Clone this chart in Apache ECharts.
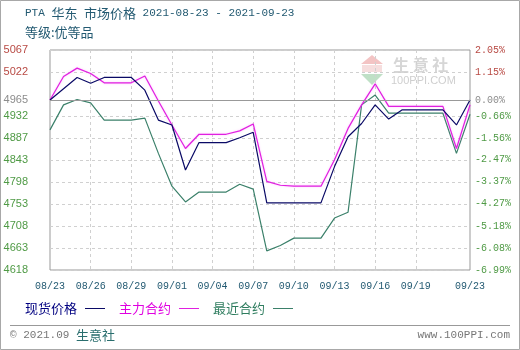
<!DOCTYPE html>
<html>
<head>
<meta charset="utf-8">
<script src="https://cdn.jsdelivr.net/npm/echarts@6/dist/echarts.min.js"></script>
<style>
  html, body { margin: 0; padding: 0; background: #fff; }
  #chart { width: 520px; height: 350px; }
</style>
</head>
<body>
<div id="chart"></div>
<script>
// Calendar days of the period (weekends/holidays carry the last quote)
const dates = [
  '08/23','08/24','08/25','08/26','08/27','08/28','08/29','08/30','08/31',
  '09/01','09/02','09/03','09/04','09/05','09/06','09/07','09/08','09/09','09/10',
  '09/11','09/12','09/13','09/14','09/15','09/16','09/17','09/18','09/19','09/20',
  '09/21','09/22','09/23'
];

// 现货价格 (元/吨)
const spotPrice = [
  4965, 4988, 5011, 4999, 5011, 5011, 5011, 4985, 4924, 4914,
  4822, 4878, 4878, 4878, 4888, 4899, 4755, 4755, 4755, 4755,
  4755, 4829, 4890, 4917, 4955, 4926, 4945, 4945, 4945, 4945,
  4914, 4965
];

// 主力合约
const mainContract = [
  4965, 5013, 5030, 5019, 5000, 5000, 5000, 5014, 4963, 4914,
  4866, 4895, 4895, 4895, 4902, 4916, 4799, 4791, 4789, 4789,
  4789, 4843, 4907, 4955, 4998, 4952, 4952, 4952, 4952, 4952,
  4866, 4955
];

// 最近合约
const nearContract = [
  4904, 4955, 4966, 4959, 4924, 4924, 4924, 4928, 4856, 4789,
  4757, 4777, 4777, 4777, 4793, 4783, 4657, 4668, 4683, 4683,
  4683, 4724, 4736, 4955, 4975, 4938, 4938, 4938, 4938, 4938,
  4856, 4936
];

// Price ticks (left) and change vs. base price (right)
const baseValue = 4965;
const leftTicks = [4618, 4663, 4708, 4753, 4798, 4843, 4887, 4932, 4965, 5022, 5067];
const rightTicks = ['-6.99%', '-6.08%', '-5.18%', '-4.27%', '-3.37%', '-2.47%', '-1.56%', '-0.66%', '0.00%', '1.15%', '2.05%'];
const gridTicks = leftTicks.filter(v => v !== baseValue);

// Which x labels / vertical grid lines are drawn
const xLabelIndex = [0, 3, 6, 9, 12, 15, 18, 21, 24, 27, 31];

const UP = '#b84a44', FLAT = '#8c8c8c', DOWN = '#4f9a45';
const tickColor = v => (v > baseValue + 0.5 ? UP : (Math.abs(v - baseValue) < 0.5 ? FLAT : DOWN));
const nearestIdx = v => {
  let best = 0;
  leftTicks.forEach((t, i) => { if (Math.abs(t - v) < Math.abs(leftTicks[best] - v)) best = i; });
  return best;
};

const MONO = '"Liberation Mono", "DejaVu Sans Mono", monospace';
const CJK = '"Noto Sans CJK SC", sans-serif';
const TEAL = '#235a72';

const chart = echarts.init(document.getElementById('chart'), null, { renderer: 'canvas' });

const option = {
  animation: false,
  backgroundColor: '#fff',
  grid: {
    left: 50, right: 50, top: 50, bottom: 80,
    show: true, borderColor: '#999', borderWidth: 1,
    outerBoundsMode: 'none'
  },
  legend: {
    left: 25, top: 302, padding: 0,
    align: 'right',
    icon: 'rect',
    itemWidth: 20, itemHeight: 1, itemGap: 14,
    textStyle: { fontFamily: CJK, fontSize: 13, padding: [0, 3, 0, 0] },
    data: [
      { name: '现货价格', textStyle: { color: '#000080' } },
      { name: '主力合约', textStyle: { color: '#e000e0' } },
      { name: '最近合约', textStyle: { color: '#2f7d5f' } }
    ]
  },
  xAxis: {
    type: 'category',
    data: dates,
    boundaryGap: false,
    axisLine: { show: false },
    axisTick: { show: false },
    axisLabel: {
      interval: i => xLabelIndex.includes(i),
      margin: 11,
      color: TEAL,
      fontFamily: MONO,
      fontSize: 10
    },
    splitLine: {
      show: true,
      interval: i => xLabelIndex.includes(i) && i > 0 && i < dates.length - 1,
      lineStyle: { color: '#d0d0d0', type: [3, 3], width: 1 }
    }
  },
  yAxis: [
    {
      type: 'value',
      min: leftTicks[0], max: leftTicks[leftTicks.length - 1],
      axisLine: { show: false },
      axisTick: { show: false, customValues: gridTicks },
      axisLabel: {
        customValues: leftTicks,
        margin: 22,
        fontFamily: '"Liberation Sans", Arial, sans-serif',
        fontSize: 11,
        color: v => tickColor(v),
        formatter: v => String(leftTicks[nearestIdx(v)])
      },
      splitLine: { show: true, lineStyle: { color: '#d0d0d0', type: [3, 3], width: 1 } }
    },
    {
      type: 'value',
      position: 'right',
      min: leftTicks[0], max: leftTicks[leftTicks.length - 1],
      axisLine: { show: false },
      axisTick: { show: false, customValues: gridTicks },
      axisLabel: {
        customValues: leftTicks,
        margin: 5,
        fontFamily: MONO,
        fontSize: 10,
        color: v => tickColor(v),
        formatter: v => rightTicks[nearestIdx(v)]
      },
      splitLine: { show: false }
    }
  ],
  series: [
    {
      name: '现货价格', type: 'line', data: spotPrice,
      symbol: 'none', z: 4,
      lineStyle: { color: '#0a0a66', width: 1.2 },
      itemStyle: { color: '#0a0a66' },
      markLine: {
        silent: true, symbol: 'none', label: { show: false },
        lineStyle: { color: '#999', type: 'solid', width: 1 },
        data: [{ yAxis: baseValue }]
      }
    },
    {
      name: '主力合约', type: 'line', data: mainContract,
      symbol: 'none', z: 3,
      lineStyle: { color: '#e020e0', width: 1.2, shadowColor: 'rgba(255,120,255,0.5)', shadowBlur: 2 },
      itemStyle: { color: '#e020e0' }
    },
    {
      name: '最近合约', type: 'line', data: nearContract,
      symbol: 'none', z: 2,
      lineStyle: { color: '#3b806a', width: 1.2 },
      itemStyle: { color: '#3b806a' }
    }
  ],
  graphic: [
    // outer frame
    { type: 'rect', shape: { x: 0.5, y: 0.5, width: 519, height: 349 }, style: { fill: 'none', stroke: '#a8a8a8', lineWidth: 1 }, silent: true },
    // title
    {
      type: 'text', left: 25, top: 7,
      style: {
        text: '{m|PTA }{c|华东}{m| }{c|市场价格}{m| 2021-08-23 - 2021-09-23}',
        fill: TEAL,
        rich: {
          m: { fontFamily: MONO, fontSize: 11, fill: TEAL },
          c: { fontFamily: CJK, fontSize: 13, fill: TEAL }
        }
      }
    },
    {
      type: 'text', left: 25, top: 26,
      style: { text: '等级:优等品', fontFamily: CJK, fontSize: 13, fill: TEAL }
    },
    // watermark
    { type: 'polygon', shape: { points: [[372, 55], [383, 64], [361, 64]] }, style: { fill: '#f3c4c4' }, silent: true },
    { type: 'rect', shape: { x: 362, y: 65, width: 20, height: 7 }, style: { fill: '#f6dede' }, silent: true },
    { type: 'polygon', shape: { points: [[361, 74], [383, 74], [372, 85]] }, style: { fill: '#bfe0c6' }, silent: true },
    { type: 'text', left: 393, top: 57, style: { text: '生 意 社', fontFamily: CJK, fontSize: 16, fontWeight: 'bold', fill: '#d6d6d6' }, silent: true },
    { type: 'text', left: 391, top: 75, style: { text: '100PPI.COM', fontFamily: '"Liberation Sans", sans-serif', fontSize: 11, fill: '#cfcfcf' }, silent: true },
    // footer
    { type: 'line', shape: { x1: 10, y1: 325.5, x2: 510, y2: 325.5 }, style: { stroke: '#999', lineWidth: 1 }, silent: true },
    {
      type: 'text', left: 10, top: 329,
      style: {
        text: '{m|© 2021.09 }{c|生意社}',
        rich: {
          m: { fontFamily: MONO, fontSize: 11, fill: '#777' },
          c: { fontFamily: CJK, fontSize: 13, fill: '#2a6e6e' }
        }
      }
    },
    {
      type: 'text', right: 10, top: 330,
      style: { text: 'www.100PPI.com', fontFamily: MONO, fontSize: 11, fill: '#777' }
    }
  ]
};

chart.setOption(option);
</script>
</body>
</html>
